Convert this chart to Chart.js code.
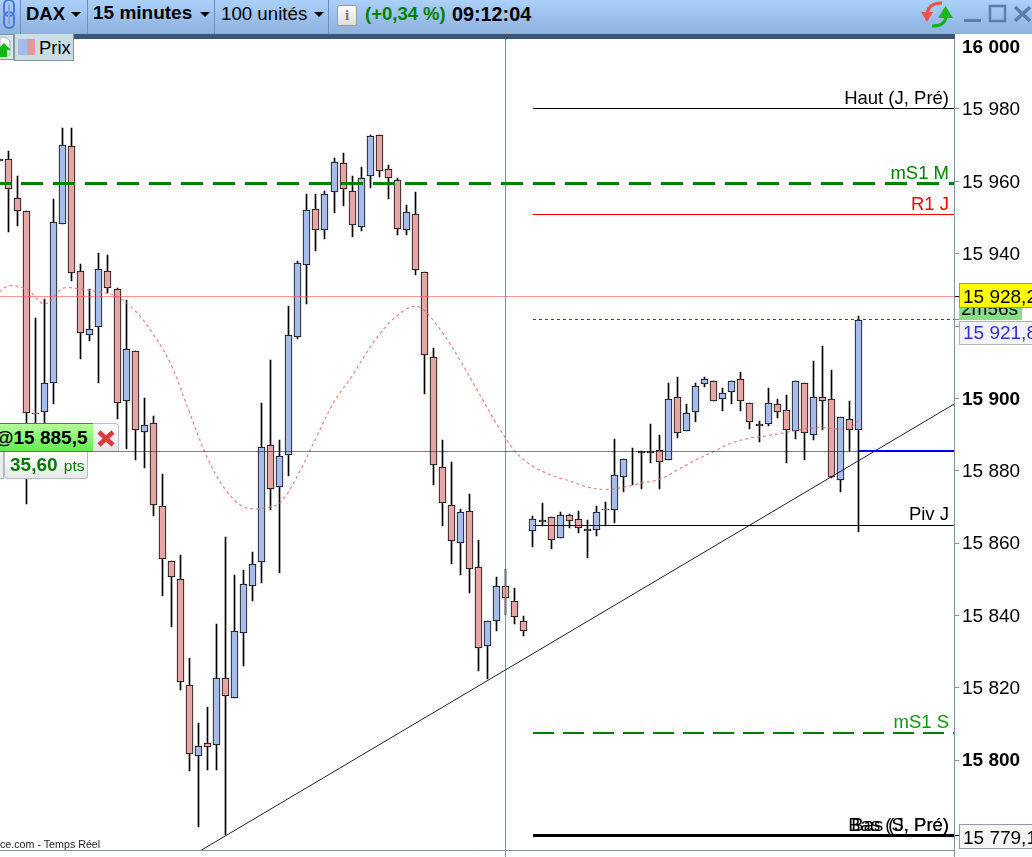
<!DOCTYPE html>
<html lang="fr">
<head>
<meta charset="utf-8">
<title>DAX 15 minutes</title>
<script src="https://cdn.jsdelivr.net/npm/chart.js@4/dist/chart.umd.min.js"></script>
<style>
    html, body { margin: 0; padding: 0; background: #fff; overflow: hidden; }
    body { width: 1032px; height: 857px; position: relative; font-family: "Liberation Sans", Arial, sans-serif; color: #000; }
    #priceChart { position: absolute; left: 0; top: 0; }
    .abs { position: absolute; white-space: nowrap; }
    #toolbar { position: absolute; left: 0; top: 0; width: 1032px; height: 34px; background: linear-gradient(#abd0fa, #8db1dd); }
    #band { position: absolute; left: 0; top: 34px; width: 955px; height: 5px; background: #3c5578; }
    #axisCover { position: absolute; left: 955px; top: 34px; width: 77px; height: 3px; background: #fff; }
    .sep { position: absolute; top: 0; width: 1px; height: 34px; background: #6c90bc; }
    .caret { position: absolute; top: 12px; width: 0; height: 0; border-left: 5px solid transparent; border-right: 5px solid transparent; border-top: 5px solid #000; }
    #infoIcon { left: 337px; top: 5px; width: 18px; height: 19px; background: linear-gradient(#fff, #dedede); border: 1px solid #9a9a9a; border-radius: 2px; text-align: center; font: bold 15px/19px "Liberation Serif", serif; color: #777; }
    #pageBtn { left: -3px; top: 34px; width: 17px; height: 26px; background: #dde6ea; border: 1px solid #7f97a3; border-left: 0; box-sizing: border-box; }
    #prixBtn { left: 14px; top: 34px; width: 60px; height: 27px; background: #cddbe2; border: 1px solid #7f97a3; border-top: 0; box-sizing: border-box; }
    #swatch { left: 3px; top: 5px; width: 17px; height: 16px; background: linear-gradient(90deg, #a3bbea 50%, #dd9c9c 50%); }
    #positionTag { left: -6px; top: 423px; width: 98px; height: 27px; background: linear-gradient(#b4ff98, #62ec50); border: 1px solid #2a9a2a; font: bold 19px/28px "Liberation Sans", sans-serif; text-align: right; box-sizing: content-box; }
    #positionTag span { padding-right: 6px; }
    #closeTag { left: 93px; top: 423px; width: 26px; height: 28px; background: linear-gradient(#fff, #e4e4e4); border: 1px solid #b5c4cc; border-left: 0; border-bottom: 0; border-top-right-radius: 4px; box-sizing: border-box; }
    #pointsTag { left: 4px; top: 452px; width: 84px; height: 27px; background: linear-gradient(#fff, #e8e8e8); border: 1px solid #aebfc7; border-top: 0; border-radius: 0 0 4px 4px; box-sizing: border-box; color: #007a00; font: bold 19px/25px "Liberation Sans", sans-serif; padding-left: 5px; }
    #pointsTag small { font: 15.5px "Liberation Sans", sans-serif; margin-left: 2px; }
    #pointsSide { left: -3px; top: 452px; width: 7px; height: 27px; background: #ececec; border: 1px solid #aebfc7; border-top: 0; box-sizing: border-box; }
    #sourceText { left: 0; top: 838px; font-size: 10.7px; line-height: 13px; color: #222; }
    #axisFoot { left: 954px; top: 850px; width: 1px; height: 7px; background: #7f97a3; }
</style>
</head>
<body>
<canvas id="priceChart" width="1032" height="857"></canvas>

<div id="toolbar">
    <svg class="abs" style="left:0;top:0" width="20" height="30" viewBox="0 0 20 30">
        <g fill="none" stroke="#4a78d8" stroke-width="2">
            <rect x="4" y="0" width="10" height="16" rx="5"/>
            <rect x="4" y="12" width="10" height="16" rx="5"/>
            <path d="M9 4 V24" stroke="#7fa4e8"/>
        </g>
    </svg>
    <div class="sep" style="left:20px"></div>
    <div class="abs" style="left:26px;top:3px;font:bold 18.5px/22px 'Liberation Sans'">DAX</div>
    <div class="caret" style="left:71px"></div>
    <div class="sep" style="left:87px"></div>
    <div class="abs" style="left:93px;top:2px;font:bold 19px/22px 'Liberation Sans'">15 minutes</div>
    <div class="caret" style="left:200px"></div>
    <div class="sep" style="left:214px"></div>
    <div class="abs" style="left:221px;top:3px;font:18.7px/22px 'Liberation Sans'">100 unités</div>
    <div class="caret" style="left:314px"></div>
    <div class="sep" style="left:328px"></div>
    <div class="abs" id="infoIcon">i</div>
    <div class="abs" style="left:365px;top:3px;font:bold 18.5px/22px 'Liberation Sans';color:#008000">(+0,34 %)</div>
    <div class="abs" style="left:452px;top:3px;font:bold 19.8px/22px 'Liberation Sans'">09:12:04</div>
    <svg class="abs" style="left:915px;top:0" width="117" height="34" viewBox="0 0 117 34">
        <path d="M12 13 Q14 3 27 3" fill="none" stroke="#f05050" stroke-width="3"/>
        <path d="M6 12 L18 12 L12 22 Z" fill="#f05050"/>
        <path d="M31 17 Q30 26 17 26" fill="none" stroke="#18b018" stroke-width="3"/>
        <path d="M23 18 L38 18 L30.5 6 Z" fill="#18b818"/>
        <rect x="49" y="19" width="17" height="3" fill="#5a7ea6"/>
        <rect x="75" y="6" width="15" height="15" fill="none" stroke="#5a7ea6" stroke-width="2.5"/>
        <path d="M100 7 L115 21 M115 7 L100 21" stroke="#5a7ea6" stroke-width="3.5"/>
    </svg>
</div>
<div id="band"></div>
<div id="axisCover"></div>

<div class="abs" id="pageBtn">
    <svg width="16" height="24" viewBox="0 0 16 24"><path d="M3 2 H9 L13 6 V20 H3 Z" fill="#f4f6f7" stroke="#a9b6bd"/><path d="M0 15 L7 8 L14 15 L10 15 L10 22 L3 22 L3 15 Z" fill="#14b814"/></svg>
</div>
<div class="abs" id="prixBtn">
    <div class="abs" id="swatch"></div>
    <div class="abs" style="left:24px;top:3px;font:18.5px/22px 'Liberation Sans'">Prix</div>
</div>

<div class="abs" id="positionTag"><span>@15 885,5</span></div>
<div class="abs" id="closeTag">
    <svg width="26" height="28" viewBox="0 0 26 28"><path d="M6 8 L20 21 M20 8 L6 21" stroke="#d93a3a" stroke-width="4.5"/></svg>
</div>
<div class="abs" id="pointsSide"></div>
<div class="abs" id="pointsTag">35,60<small> pts</small></div>

<div class="abs" id="sourceText">ce.com - Temps Réel</div>
<div class="abs" id="axisFoot"></div>

<script>
// Candles: one entry per bar, bar numbers run from -1 to 94
const firstBar = -1;
const opens = [
    15966.2, 15966.3, 15955.3, 15951.7, 15895.9, 15896.1, 15904.2, 15948.1, 15969.7, 15935.1,
    15917.4, 15919.6, 15935.1, 15930.2, 15899.2, 15913.0, 15890.6, 15893.1, 15870.2, 15855.0,
    15850.0, 15820.8, 15801.0, 15804.6, 15804.1, 15822.6, 15817.1, 15835.0, 15848.0, 15854.7,
    15887.0, 15875.4, 15884.3, 15916.9, 15936.8, 15952.3, 15946.5, 15957.0, 15965.0, 15957.2,
    15947.3, 15961.4, 15972.7, 15963.3, 15960.3, 15946.5, 15950.9, 15934.9, 15911.4, 15880.9,
    15870.4, 15859.9, 15868.8, 15853.3, 15831.5, 15838.4, 15848.0, 15843.9, 15838.4, 15863.2,
    15866.4, 15867.1, 15861.3, 15867.7, 15866.6, 15863.2, 15863.5, 15869.3, 15869.1, 15878.2,
    null, 15884.8, 15884.8, 15885.6, 15882.9, 15900.3, 15890.9, 15896.1, 15903.9, 15904.7,
    15899.7, 15901.7, 15905.3, 15898.6, 15892.8, 15892.8, 15898.4, 15896.7, 15890.9, 15904.2,
    15889.8, 15900.3, 15899.7, 15877.3, 15894.2, 15891.2
];
const closes = [
    15965.7, 15957.8, 15951.7, 15895.9, 15895.8, 15904.3, 15948.7, 15970.0, 15934.6, 15918.0,
    15919.1, 15935.7, 15930.4, 15898.6, 15913.6, 15891.2, 15892.6, 15870.4, 15855.5, 15850.5,
    15821.5, 15801.6, 15804.0, 15803.5, 15822.6, 15817.6, 15835.6, 15848.6, 15854.1, 15886.5,
    15874.9, 15884.0, 15917.4, 15937.3, 15952.0, 15946.5, 15956.4, 15965.3, 15957.8, 15947.8,
    15960.8, 15972.5, 15962.8, 15960.8, 15946.7, 15951.4, 15935.4, 15911.9, 15881.5, 15871.0,
    15860.5, 15868.5, 15852.7, 15830.9, 15838.4, 15848.0, 15844.7, 15839.5, 15835.6, 15866.6,
    15865.8, 15860.8, 15867.7, 15866.0, 15864.1, 15863.8, 15868.5, 15869.0, 15878.7, 15883.2,
    null, 15885.4, 15885.4, 15882.3, 15899.7, 15890.3, 15895.9, 15903.3, 15905.3, 15899.2,
    15901.4, 15904.7, 15899.2, 15893.4, 15892.3, 15898.6, 15896.1, 15891.2, 15904.7, 15890.3,
    15900.3, 15899.2, 15878.2, 15894.8, 15891.2, 15921.8
];
const highs = [
    15966.2, 15968.4, 15961.5, 15951.7, 15922.1, 15927.5, 15955.0, 15974.7, 15974.7, 15937.1,
    15930.2, 15940.1, 15939.6, 15930.5, 15927.2, 15913.0, 15900.1, 15895.1, 15879.1, 15855.0,
    15856.6, 15828.1, 15810.2, 15814.7, 15837.5, 15861.6, 15851.2, 15852.5, 15857.4, 15898.6,
    15910.6, 15888.5, 15925.5, 15937.9, 15956.4, 15956.4, 15957.2, 15966.4, 15967.8, 15961.5,
    15964.0, 15972.8, 15972.8, 15964.4, 15960.8, 15953.5, 15957.1, 15934.9, 15913.8, 15888.4,
    15882.4, 15869.3, 15873.5, 15860.8, 15838.4, 15850.6, 15852.8, 15847.5, 15839.7, 15867.5,
    15871.0, 15867.1, 15868.5, 15867.9, 15868.8, 15866.3, 15870.2, 15871.3, 15888.7, 15883.2,
    15886.3, 15885.4, 15892.9, 15889.8, 15904.2, 15905.9, 15898.4, 15904.2, 15905.9, 15904.7,
    15902.8, 15904.7, 15907.2, 15898.6, 15893.7, 15902.8, 15899.8, 15900.9, 15904.7, 15904.2,
    15910.2, 15914.5, 15907.8, 15894.8, 15899.3, 15922.8
];
const lows = [
    15965.7, 15946.1, 15947.7, 15870.7, 15893.2, 15893.2, 15898.5, 15948.1, 15932.4, 15911.0,
    15915.9, 15904.3, 15929.0, 15894.4, 15886.1, 15883.0, 15880.8, 15867.6, 15845.4, 15836.9,
    15819.5, 15797.1, 15781.6, 15797.3, 15797.3, 15779.3, 15817.1, 15826.1, 15844.1, 15849.0,
    15869.2, 15851.8, 15878.6, 15916.3, 15926.2, 15940.8, 15944.1, 15951.3, 15953.2, 15944.7,
    15946.4, 15958.2, 15961.3, 15955.2, 15945.2, 15945.2, 15934.1, 15901.2, 15876.1, 15864.8,
    15854.3, 15851.2, 15846.3, 15824.7, 15822.3, 15835.8, 15840.1, 15837.7, 15834.3, 15859.0,
    15864.8, 15858.4, 15861.3, 15864.2, 15862.9, 15855.9, 15862.0, 15864.6, 15865.6, 15874.2,
    15876.0, 15875.0, 15882.2, 15875.0, 15882.9, 15889.1, 15890.9, 15893.5, 15903.2, 15899.2,
    15896.6, 15898.5, 15896.6, 15891.6, 15888.0, 15892.3, 15894.7, 15882.2, 15888.7, 15883.0,
    15888.6, 15891.2, 15877.9, 15874.2, 15885.4, 15863.1
];

// Moving average
const maBars = [
    -1, 0, 2, 4, 6, 8, 10, 12, 14, 16, 18, 20, 22, 24, 26, 28, 30, 32, 34, 36, 38, 40, 42, 44, 45, 46,
    48, 50, 52, 54, 56, 58, 60, 62, 64, 66, 68, 70, 72, 74, 76, 78, 80, 82, 84, 86, 88, 90, 92, 93, 94
];
const maValues = [
    15929.4, 15931.1, 15930.2, 15926.1, 15930.4, 15930.2, 15929.4, 15928.2, 15924.2, 15917.8, 15909.2,
    15896.2, 15883.5, 15874.7, 15870.0, 15869.6, 15871.1, 15878.8, 15889.0, 15899.0, 15906.2, 15914.2,
    15920.6, 15924.7, 15925.5, 15924.3, 15918.1, 15910.3, 15901.5, 15892.9, 15885.4, 15881.2, 15878.8,
    15877.2, 15875.5, 15874.8, 15875.4, 15876.6, 15877.6, 15880.2, 15883.0, 15885.3, 15887.7, 15889.0,
    15889.7, 15890.6, 15891.5, 15891.9, 15891.5, 15891.8, 15893.8
];

// Trend line end points (bar number, price)
const trendBars = [21.2, 104.56];
const trendValues = [15774.9, 15898.4];

// Horizontal levels
const levelValues = [15980.1, 15959.4, 15950.8, 15928.2, 15921.8, 15885.4, 15885.4, 15864.9, 15807.5, 15779.1];
const levelStarts = [58, -0.94, 58, -0.94, 58, -0.94, 94, 58, 58, 58];
const levelEnd = 104.56;

// Texts written above the levels
const levelNames = ['Haut (J, Pré)', 'mS1 M', 'R1 J', 'Piv J', 'mS1 S', 'Bas (S, Pré)', 'Bas (J, Pré)'];
const levelNameValues = [15980.1, 15959.4, 15950.8, 15864.9, 15807.5, 15779.1, 15779.1];

// Cursor line
const cursorBar = 55;
const cursorValues = [16000, 15773.2];

// Axis
const yTicks = [16000, 15980, 15960, 15940, 15920, 15900, 15880, 15860, 15840, 15820, 15800];
const yTickLabels = ['16 000', '15 980', '15 960', '15 940', '', '15 900', '15 880', '15 860', '15 840', '15 820', '15 800'];
const boldTicks = [16000, 15900, 15800];
const yMin = 15775.13;
const yMax = 16000;

// Price tags on the axis
const lastPrice = 15921.8;
const cursorPrice = 15928.2;
const lowPrice = 15779.1;
const countdown = '2m56s';

const BLUE = '#a6bdec';
const RED = '#e6a6a6';
const X_LEFT = -0.94;
const X_RIGHT = 104.56;

const levelStyles = [
    { color: '#000000', width: 1 },
    { color: '#008000', width: 3, dash: [22, 10], offset: 11 },
    { color: '#ff0000', width: 1 },
    { color: 'rgba(255,80,80,0.6)', width: 1 },
    { color: '#3a3a9a', width: 1, dash: [3, 3] },
    { color: 'rgba(0,0,0,0.5)', width: 1 },
    { color: '#0000ff', width: 2 },
    { color: '#000000', width: 1 },
    { color: '#008000', width: 2, dash: [21, 9] },
    { color: '#000000', width: 3 }
];
const nameColors = ['#000000', '#008000', '#ff0000', '#000000', '#0f960f', '#000000', '#000000'];

const bars = opens.map((_, i) => firstBar + i);

const datasets = [];

// Lines come first so they get the lowest order and sit on top of the candles
levelValues.forEach((value, i) => {
    const style = levelStyles[i];
    datasets.push({
        type: 'line',
        data: [{ x: levelStarts[i], y: value }, { x: levelEnd, y: value }],
        borderColor: style.color,
        borderWidth: style.width,
        borderDash: style.dash || [],
        borderDashOffset: style.offset || 0,
        pointRadius: 0,
        order: 1,
        snapLevel: true
    });
});

datasets.push({
    type: 'line',
    data: maBars.map((bar, i) => ({ x: bar, y: maValues[i] })),
    borderColor: 'rgba(232,110,110,0.8)',
    borderWidth: 1.3,
    borderDash: [3, 3],
    pointRadius: 0,
    tension: 0.35,
    order: 2
});

datasets.push({
    type: 'line',
    data: trendBars.map((bar, i) => ({ x: bar, y: trendValues[i] })),
    borderColor: '#222222',
    borderWidth: 1,
    pointRadius: 0,
    order: 2
});

datasets.push({
    type: 'line',
    data: cursorValues.map(value => ({ x: cursorBar, y: value })),
    borderColor: 'rgba(255,80,80,0.5)',
    borderWidth: 1,
    pointRadius: 0,
    clip: false,
    order: 2,
    snapCursor: true
});

// Candle bodies
datasets.push({
    type: 'bar',
    data: bars.map((bar, i) => ({ x: bar, y: opens[i] === null ? null : [opens[i], closes[i]] })),
    backgroundColor: bars.map((_, i) => (closes[i] > opens[i] ? BLUE : RED)),
    borderColor: '#000000',
    borderWidth: 1,
    borderSkipped: false,
    barThickness: 7,
    grouped: false,
    order: 5,
    snapBar: true
});

// Wicks
datasets.push({
    type: 'bar',
    data: bars.map((bar, i) => ({ x: bar, y: [lows[i], highs[i]] })),
    backgroundColor: '#000000',
    borderWidth: 0,
    barThickness: 1,
    grouped: false,
    order: 6,
    snapBar: true
});

// Keep the thin lines on whole pixels like the original platform draws them
const pixelSnap = {
    id: 'pixelSnap',
    afterDatasetsUpdate(chart) {
        chart.data.datasets.forEach((dataset, index) => {
            const meta = chart.getDatasetMeta(index);
            if (dataset.snapBar) {
                meta.data.forEach(el => {
                    if (el.skip) return;
                    el.x = Math.floor(el.x) + 0.5;
                    el.y = Math.round(el.y);
                    el.base = Math.round(el.base);
                    if (Math.abs(el.y - el.base) < 1) el.base = el.y + 1;
                });
            }
            if (dataset.snapLevel) {
                meta.data.forEach(el => {
                    el.y = dataset.borderWidth % 2 ? Math.floor(el.y) + 0.5 : Math.round(el.y);
                });
            }
            if (dataset.snapCursor) {
                meta.data.forEach(el => { el.x = Math.floor(el.x) + 0.5; });
            }
        });
    }
};

function formatPrice(value) {
    const text = value.toFixed(1).replace('.', ',');
    return text.slice(0, 2) + ' ' + text.slice(2);
}

// Level names and the price tags on the axis
const annotations = {
    id: 'annotations',
    afterDraw(chart) {
        const ctx = chart.ctx;
        const y = chart.scales.y;
        ctx.save();

        ctx.font = '18.5px "Liberation Sans"';
        ctx.textAlign = 'right';
        ctx.textBaseline = 'alphabetic';
        levelNames.forEach((name, i) => {
            ctx.fillStyle = nameColors[i];
            ctx.fillText(name, 949, Math.round(y.getPixelForValue(levelNameValues[i])) - 5);
        });

        ctx.textAlign = 'left';
        ctx.font = '19px "Liberation Sans"';

        // small ticks next to the tags
        ctx.fillStyle = '#000000';
        ctx.fillRect(955, Math.floor(y.getPixelForValue(cursorPrice)), 4, 1);
        ctx.fillRect(955, Math.floor(y.getPixelForValue(lowPrice)), 4, 1);
        ctx.fillStyle = '#7f97a3';
        ctx.fillRect(955, Math.floor(y.getPixelForValue(lastPrice)), 4, 1);

        const tagY = Math.round(y.getPixelForValue(cursorPrice));
        const lastY = Math.round(y.getPixelForValue(lastPrice));
        const lowY = Math.round(y.getPixelForValue(lowPrice));

        // countdown, half hidden under the yellow tag
        ctx.fillStyle = '#88dd88';
        ctx.fillRect(959, tagY + 11, 63, 13);
        ctx.fillStyle = '#000000';
        ctx.fillText(countdown, 961, tagY + 19);

        ctx.fillStyle = '#ffff00';
        ctx.fillRect(959, tagY - 12, 73, 24);
        ctx.strokeStyle = '#8a9aa2';
        ctx.strokeRect(959.5, tagY - 12.5, 74, 24);
        ctx.fillStyle = '#000000';
        ctx.fillText(formatPrice(cursorPrice), 963, tagY + 7);

        ctx.fillStyle = '#f3f3f6';
        ctx.fillRect(959, lastY + 1, 73, 23);
        ctx.strokeStyle = '#a8b4ba';
        ctx.strokeRect(959.5, lastY + 1.5, 74, 23);
        ctx.fillStyle = '#3333cc';
        ctx.fillText(formatPrice(lastPrice), 963, lastY + 19);

        ctx.fillStyle = '#f6f6f6';
        ctx.fillRect(959, lowY - 11, 73, 23);
        ctx.strokeStyle = '#8f9ea6';
        ctx.strokeRect(959.5, lowY - 11.5, 74, 24);
        ctx.fillStyle = '#000000';
        ctx.fillText(formatPrice(lowPrice), 963, lowY + 8);

        ctx.restore();
    }
};

new Chart(document.getElementById('priceChart'), {
    type: 'bar',
    data: { datasets },
    plugins: [pixelSnap, annotations],
    options: {
        responsive: false,
        animation: false,
        devicePixelRatio: 1,
        events: [],
        layout: { padding: { top: 36.66, bottom: 7, left: 0, right: 0 } },
        plugins: { legend: { display: false }, tooltip: { enabled: false } },
        scales: {
            x: {
                type: 'linear',
                min: X_LEFT,
                max: X_RIGHT,
                offset: false,
                ticks: { display: false },
                grid: { drawOnChartArea: false, drawTicks: false },
                border: { color: '#7f97a3' },
                afterFit(axis) { axis.height = 0; }
            },
            y: {
                type: 'linear',
                position: 'right',
                min: yMin,
                max: yMax,
                grid: { drawOnChartArea: false, tickLength: 5, color: '#7f97a3' },
                border: { color: '#7f97a3' },
                afterBuildTicks(axis) {
                    axis.ticks = yTicks.map(value => ({ value }));
                },
                afterFit(axis) {
                    axis.width = 78;
                    axis.paddingTop = 0;
                    axis.paddingBottom = 0;
                },
                ticks: {
                    autoSkip: false,
                    padding: 3,
                    labelOffset: 1,
                    color: '#000000',
                    font: ctx => ({
                        family: '"Liberation Sans"',
                        size: 19,
                        lineHeight: 1.05,
                        weight: boldTicks.includes(ctx.tick && ctx.tick.value) ? 'bold' : 'normal'
                    }),
                    callback(value) {
                        const label = yTickLabels[yTicks.indexOf(value)];
                        // the top label sits just under the toolbar
                        return value === 16000 ? ['', label] : label;
                    }
                }
            }
        }
    }
});
</script>
</body>
</html>
